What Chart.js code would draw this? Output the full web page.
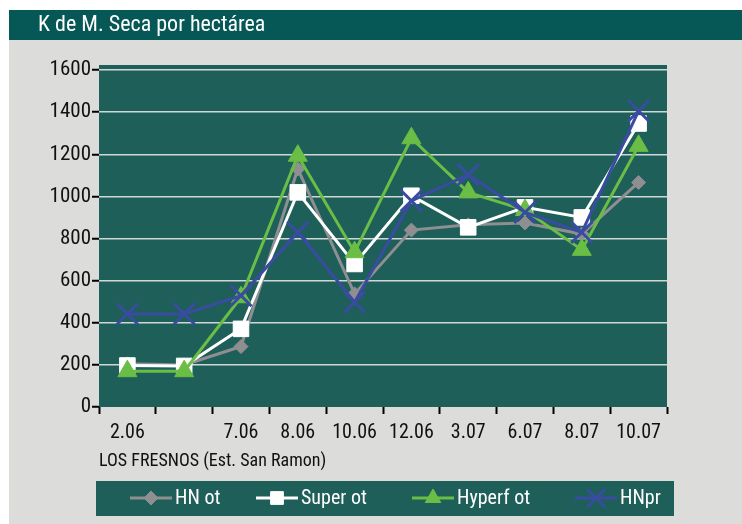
<!DOCTYPE html>
<html>
<head>
<meta charset="utf-8">
<script src="https://cdn.jsdelivr.net/npm/chart.js@4"></script>
<style>
  html, body { margin: 0; padding: 0; background: #ffffff; }
  #wrap { position: relative; width: 742px; height: 524px; }
</style>
</head>
<body>
<div id="wrap"><canvas id="msChart" width="742" height="524"></canvas></div>
<script>
// Data
const categories = ['2.06', '', '7.06', '8.06', '10.06', '12.06', '3.07', '6.07', '8.07', '10.07'];
const hnOt     = [205, 200, 287, 1130, 537, 840, 865, 874, 821, 1066];
const superOt  = [197, 195, 371, 1019, 679, 1003, 853, 948, 900, 1346];
const hyperfOt = [170, 170, 521, 1193, 735, 1276, 1019, 935, 746, 1240];
const hnPr     = [442, 442, 529, 829, 498, 979, 1103, 924, 829, 1406];
const yTicks   = [0, 200, 400, 600, 800, 1000, 1200, 1400, 1600];

// condensed Roboto (width axis), passed through the weight slot of the font shorthand
const FAMILY = 'Roboto, "DejaVu Sans", sans-serif';
const WEIGHT = 'normal condensed';
const TEAL_DARK = '#065856';
const TEAL = '#1e5f59';
const GREY_BG = '#dcdcda';

function fontStr(size) {
    return WEIGHT + ' ' + size + 'px ' + FAMILY;
}

// Background, title bar, plot fill and the legend box
const framePlugin = {
    id: 'frame',
    beforeDraw(chart) {
        const ctx = chart.ctx;
        const a = chart.chartArea;
        ctx.save();
        ctx.fillStyle = GREY_BG;
        ctx.fillRect(9, 40, 733, 484);
        ctx.fillStyle = TEAL_DARK;
        ctx.fillRect(9, 10, 733, 30);
        ctx.fillStyle = '#ffffff';
        ctx.font = fontStr(22);
        ctx.textBaseline = 'middle';
        ctx.fillText('K de M. Seca por hectárea', 38, 25);
        ctx.fillStyle = TEAL;
        ctx.fillRect(a.left, a.top - 5, a.right - a.left, a.bottom - a.top + 5);
        ctx.restore();
    },
    afterDraw(chart) {
        const ctx = chart.ctx;
        ctx.save();
        ctx.fillStyle = TEAL;
        ctx.fillRect(96, 481, 578, 35);
        const starts = [130, 256, 412, 575];
        ctx.font = fontStr(20);
        ctx.textBaseline = 'middle';
        chart.data.datasets.forEach(function(ds, i) {
            const x0 = starts[i];
            const y = 498;
            ctx.strokeStyle = ds.borderColor;
            ctx.lineWidth = 3;
            ctx.beginPath();
            ctx.moveTo(x0, y);
            ctx.lineTo(x0 + 42, y);
            ctx.stroke();
            ctx.fillStyle = ds.pointBackgroundColor;
            ctx.strokeStyle = ds.pointBorderColor;
            ctx.lineWidth = ds.pointBorderWidth;
            Chart.helpers.drawPoint(ctx, {
                pointStyle: ds.pointStyle,
                radius: ds.legendRadius,
                borderWidth: ds.pointBorderWidth
            }, x0 + 21, y);
            ctx.fillStyle = '#ffffff';
            ctx.fillText(ds.label, x0 + 45, y + 1);
        });
        ctx.restore();
    }
};

document.addEventListener('DOMContentLoaded', function() {
    const ctx = document.getElementById('msChart').getContext('2d');

    new Chart(ctx, {
        type: 'line',
        data: {
            labels: categories,
            datasets: [{
                label: 'HN ot',
                data: hnOt,
                borderColor: '#8f8f92',
                pointBackgroundColor: '#8f8f92',
                pointBorderColor: '#8f8f92',
                pointStyle: 'rectRot',
                pointRadius: 7,
                legendRadius: 7,
                pointBorderWidth: 1,
                borderWidth: 3,
                order: 3
            }, {
                label: 'Super ot',
                data: superOt,
                borderColor: '#ffffff',
                pointBackgroundColor: '#ffffff',
                pointBorderColor: '#ffffff',
                pointStyle: 'rect',
                pointRadius: 11,
                legendRadius: 9,
                pointBorderWidth: 1,
                borderWidth: 3,
                order: 2
            }, {
                label: 'Hyperf ot',
                data: hyperfOt,
                borderColor: '#6abd45',
                pointBackgroundColor: '#6abd45',
                pointBorderColor: '#6abd45',
                pointStyle: 'triangle',
                pointRadius: 11,
                legendRadius: 9,
                pointBorderWidth: 1,
                borderWidth: 3,
                order: 1
            }, {
                label: 'HNpr',
                data: hnPr,
                borderColor: '#3a4ca1',
                pointBackgroundColor: '#3a4ca1',
                pointBorderColor: '#3a4ca1',
                pointStyle: 'crossRot',
                pointRadius: 15,
                legendRadius: 13,
                pointBorderWidth: 3,
                borderWidth: 3,
                order: 0
            }]
        },
        options: {
            responsive: false,
            animation: false,
            events: [],
            layout: {
                padding: { left: 0, right: 75, top: 70, bottom: 51 }
            },
            scales: {
                x: {
                    offset: true,
                    grid: {
                        offset: true,
                        drawOnChartArea: false,
                        tickColor: '#000000',
                        tickLength: 7,
                        tickWidth: 2
                    },
                    border: { display: false },
                    ticks: {
                        color: '#111111',
                        font: { family: FAMILY, weight: WEIGHT, size: 20 },
                        padding: 7,
                        maxRotation: 0,
                        autoSkip: false
                    },
                    title: {
                        display: true,
                        text: 'LOS FRESNOS (Est. San Ramon)',
                        align: 'start',
                        color: '#111111',
                        font: { family: FAMILY, weight: WEIGHT, size: 18 },
                        padding: { top: 2, bottom: 1 }
                    },
                    afterFit: function(scale) { scale.height = 66; }
                },
                y: {
                    min: 0,
                    max: 1600,
                    afterBuildTicks: function(scale) {
                        scale.ticks = yTicks.map(v => ({ value: v }));
                    },
                    grid: {
                        color: function(c) { return c.tick && c.tick.value === 0 ? 'rgba(0,0,0,0)' : '#cfd8d6'; },
                        lineWidth: 1.5,
                        tickColor: '#000000',
                        tickLength: 7,
                        tickWidth: 2
                    },
                    border: { display: false },
                    ticks: {
                        color: '#111111',
                        font: { family: FAMILY, weight: WEIGHT, size: 21 },
                        padding: 1,
                        callback: function(value) { return String(value); }
                    },
                    afterFit: function(scale) { scale.width = 99; }
                }
            },
            plugins: {
                legend: { display: false },
                tooltip: { enabled: false }
            }
        },
        plugins: [framePlugin]
    });
});
</script>
</body>
</html>
